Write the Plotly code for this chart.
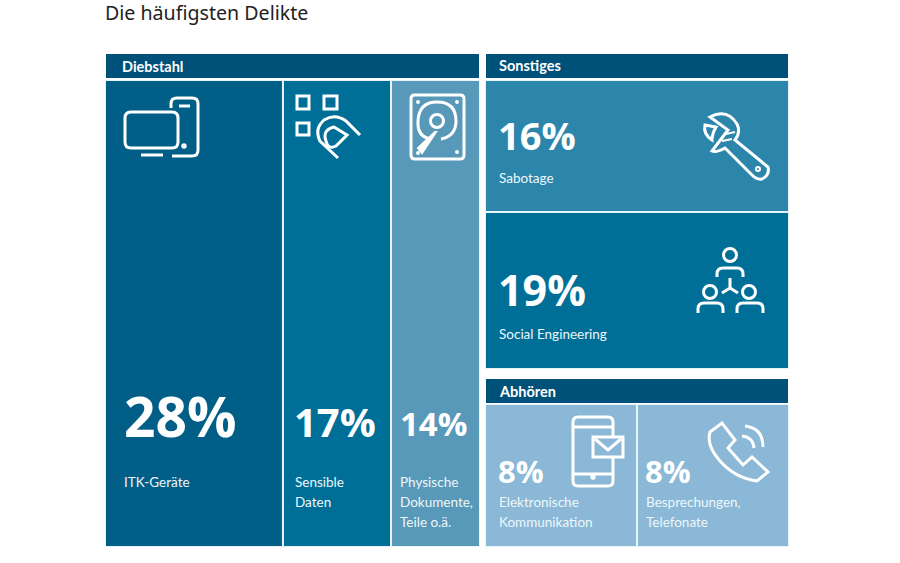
import plotly.graph_objects as go

W = 900
H = 563

diebstahl_labels = ["ITK-Geräte", "Sensible<br>Daten", "Physische<br>Dokumente,<br>Teile o.ä."]
diebstahl_values = [28, 17, 14]
sonstiges_labels = ["Sabotage", "Social Engineering"]
sonstiges_values = [16, 19]
abhoeren_labels = ["Elektronische<br>Kommunikation", "Besprechungen,<br>Telefonate"]
abhoeren_values = [8, 8]

GAP = "#e6f5fa"
HEAD = "#00517a"
WHITE = "#ffffff"
LABEL = "#eef7fb"
LABEL_FONT = "Lato"
NUM_FONT = "Open Sans"


def px(x):
    return x / W


def py(y):
    return 1 - y / H


def path(points, close=False):
    # points are picture pixels, shapes want paper coordinates
    s = ""
    for i, p in enumerate(points):
        if len(p) == 2:
            s += ("M" if i == 0 else "L") + f"{px(p[0]):.5f},{py(p[1]):.5f} "
        else:
            s += f"Q{px(p[0]):.5f},{py(p[1]):.5f} {px(p[2]):.5f},{py(p[3]):.5f} "
    return s + ("Z" if close else "")


def line_shape(points, close=False, width=3, fill=None):
    return dict(type="path", xref="paper", yref="paper", path=path(points, close),
                line=dict(color=WHITE, width=width), fillcolor=fill)


def box(x0, y0, x1, y1, r=4, fill=None, width=3):
    pts = [(x0 + r, y0), (x1 - r, y0), (x1, y0, x1, y0 + r), (x1, y1 - r), (x1, y1, x1 - r, y1),
           (x0 + r, y1), (x0, y1, x0, y1 - r), (x0, y0 + r), (x0, y0, x0 + r, y0)]
    return line_shape(pts, True, width, fill)


def circle(cx, cy, r, width=3, fill=None):
    return dict(type="circle", xref="paper", yref="paper", x0=px(cx - r), x1=px(cx + r),
                y0=py(cy + r), y1=py(cy - r), line=dict(color=WHITE, width=width), fillcolor=fill)


fig = go.Figure()

# left block, widths follow the values
left_x = [sum(diebstahl_values[:i]) + v / 2 for i, v in enumerate(diebstahl_values)]
fig.add_trace(go.Bar(x=left_x, y=[1, 1, 1], width=diebstahl_values,
                     marker=dict(color=["#005e87", "#006f98", "#5898b8"], line=dict(color=GAP, width=2)),
                     xaxis="x", yaxis="y", hoverinfo="skip"))

# right top block, heights follow the values
base = 0
for v, c in zip(sonstiges_values, ["#2c86ac", "#006f98"]):
    fig.add_trace(go.Bar(x=[1], y=[v], base=[base], width=[1],
                         marker=dict(color=c, line=dict(color=GAP, width=2)),
                         xaxis="x2", yaxis="y2", hoverinfo="skip"))
    base += v

# right bottom block
abh_x = [sum(abhoeren_values[:i]) + v / 2 for i, v in enumerate(abhoeren_values)]
fig.add_trace(go.Bar(x=abh_x, y=[1, 1], width=abhoeren_values,
                     marker=dict(color="#8ab8d6", line=dict(color=GAP, width=2)),
                     xaxis="x3", yaxis="y3", hoverinfo="skip"))

hidden = dict(visible=False, fixedrange=True)
fig.update_layout(
    xaxis=dict(domain=[px(105), px(480)], range=[0, sum(diebstahl_values)], **hidden),
    yaxis=dict(domain=[py(547), py(80)], range=[0, 1], **hidden),
    xaxis2=dict(domain=[px(485), px(789)], range=[0.5, 1.5], anchor="y2", **hidden),
    yaxis2=dict(domain=[py(369), py(80)], range=[sum(sonstiges_values), 0], anchor="x2", **hidden),
    xaxis3=dict(domain=[px(485), px(789)], range=[0, sum(abhoeren_values)], anchor="y3", **hidden),
    yaxis3=dict(domain=[py(547), py(404)], range=[0, 1], anchor="x3", **hidden),
)

shapes = []
# header strips
for x0, y0, x1, y1 in [(106, 54, 479, 78), (486, 54, 788, 78), (486, 379, 788, 403)]:
    shapes.append(dict(type="rect", xref="paper", yref="paper", x0=px(x0), x1=px(x1), y0=py(y1), y1=py(y0),
                       fillcolor=HEAD, line_width=0, layer="below"))

# computer and phone
shapes.append(box(125, 112, 178, 148, 6))
shapes.append(line_shape([(141, 155), (163, 155)]))
shapes.append(line_shape([(171, 108), (171, 104), (171, 98, 177, 98), (192, 98), (198, 98, 198, 104),
                          (198, 150), (198, 156, 192, 156), (172, 156)]))
shapes.append(line_shape([(179, 106), (190, 106)]))
shapes.append(circle(184, 146, 1.2))

# squares and fingerprint
shapes.append(box(297, 96, 309, 109, 0))
shapes.append(box(324, 96, 337, 109, 0))
shapes.append(box(297, 123, 309, 135, 0))
shapes.append(line_shape([(360, 135), (346, 121), (335, 113, 324, 120), (314, 129, 320, 141), (338, 158)]))
shapes.append(line_shape([(334, 127), (347, 135), (336, 146), (328, 150, 326, 141), (322, 130, 334, 127)], True))

# hard disk
shapes.append(box(411, 95, 464, 159, 4))
shapes.append(line_shape([(431, 139), (417, 137, 418, 121), (419, 102, 437, 102), (456, 102, 456, 121),
                          (456, 136, 441, 139)]))
shapes.append(circle(437, 121, 6.5))
shapes.append(line_shape([(435, 132), (418, 148), (422, 153), (436, 132)], True, 2, WHITE))
for sx, sy in [(418, 102), (457, 102), (418, 153), (457, 152)]:
    shapes.append(circle(sx, sy, 1.2, 1.5, WHITE))

# wrench
shapes.append(line_shape([(710, 117), (727, 108, 737, 124), (741, 132, 735, 140), (768, 167), (770, 175, 762, 179),
                          (757, 180, 752, 175), (725, 148), (716, 153, 712, 151), (728, 130)], True))
shapes.append(line_shape([(705, 125), (716, 127), (712, 134, 712, 140), (703, 134, 705, 125)], True))
shapes.append(line_shape([(726, 134), (735, 132)], width=2))
shapes.append(line_shape([(722, 141), (732, 139)], width=2))
shapes.append(circle(758, 169, 2, 2))

# social engineering people
shapes.append(circle(730, 255, 6.5))
shapes.append(circle(710, 292, 6.5))
shapes.append(circle(749, 292, 6.5))
for x0, x1, top, bot in [(717, 743, 268, 277), (698, 723, 303, 313), (737, 763, 303, 313)]:
    shapes.append(line_shape([(x0, bot), (x0, top + 6), (x0, top, x0 + 6, top), (x1 - 6, top), (x1, top, x1, top + 6),
                              (x1, bot)]))
shapes.append(line_shape([(730, 278), (730, 288), (722, 293)]))
shapes.append(line_shape([(730, 288), (738, 293)]))

# smartphone with envelope
shapes.append(box(573, 417, 613, 486, 5))
shapes.append(line_shape([(573, 427), (613, 427)]))
shapes.append(line_shape([(573, 474), (613, 474)]))
shapes.append(circle(593, 477, 1.2))
shapes.append(box(593, 437, 623, 457, 0, "#8ab8d6"))
shapes.append(line_shape([(595, 439), (608, 450), (621, 439)]))

# telephone
shapes.append(line_shape([(710, 432), (722, 423), (735, 440), (728, 448), (743, 465), (752, 457), (768, 472),
                          (757, 481), (735, 478, 720, 461), (706, 445, 710, 432)], True))
shapes.append(line_shape([(742, 436), (753, 437, 754, 448)]))
shapes.append(line_shape([(745, 426), (763, 428, 763, 447)]))

fig.update_layout(shapes=shapes)


def text(x, y, s, size, family=LABEL_FONT, weight=400, color=LABEL):
    fig.add_annotation(xref="paper", yref="paper", x=px(x), y=py(y), text=s, showarrow=False,
                       xanchor="left", yanchor="middle", align="left", borderpad=0, borderwidth=0,
                       font=dict(family=family, size=size, color=color, weight=weight))


def label(x, y, s):
    # one annotation per line, the reference has 20px between lines
    for i, part in enumerate(s.split("<br>")):
        text(x, y + 20 * i, part, 13.5)


text(105, 12, "Die häufigsten Delikte", 19.6, "Noto Sans", color="#222222")
text(122, 66, "Diebstahl", 14.5, weight=700, color=WHITE)
text(499, 65, "Sonstiges", 14.5, weight=700, color=WHITE)
text(499, 391, "Abhören", 14.5, weight=700, color=WHITE)

text(124, 415, f"{diebstahl_values[0]}%", 55, NUM_FONT, 700, WHITE)
text(294, 421, f"{diebstahl_values[1]}%", 40, NUM_FONT, 700, WHITE)
text(400, 423, f"{diebstahl_values[2]}%", 33, NUM_FONT, 700, WHITE)
text(498, 135, f"{sonstiges_values[0]}%", 38, NUM_FONT, 700, WHITE)
text(498, 289, f"{sonstiges_values[1]}%", 43, NUM_FONT, 700, WHITE)
text(498, 471, f"{abhoeren_values[0]}%", 31, NUM_FONT, 700, WHITE)
text(645, 471, f"{abhoeren_values[1]}%", 31, NUM_FONT, 700, WHITE)

label(124, 482, diebstahl_labels[0])
label(295, 482, diebstahl_labels[1])
label(400, 482, diebstahl_labels[2])
label(499, 178, sonstiges_labels[0])
label(499, 334, sonstiges_labels[1])
label(499, 502, abhoeren_labels[0])
label(646, 502, abhoeren_labels[1])

fig.update_layout(width=W, height=H, margin=dict(l=0, r=0, t=0, b=0), showlegend=False,
                  barmode="overlay", paper_bgcolor=WHITE, plot_bgcolor=WHITE)
fig.write_html("out.html", config={"displayModeBar": False},
               post_script="document.body.style.margin='0';")
